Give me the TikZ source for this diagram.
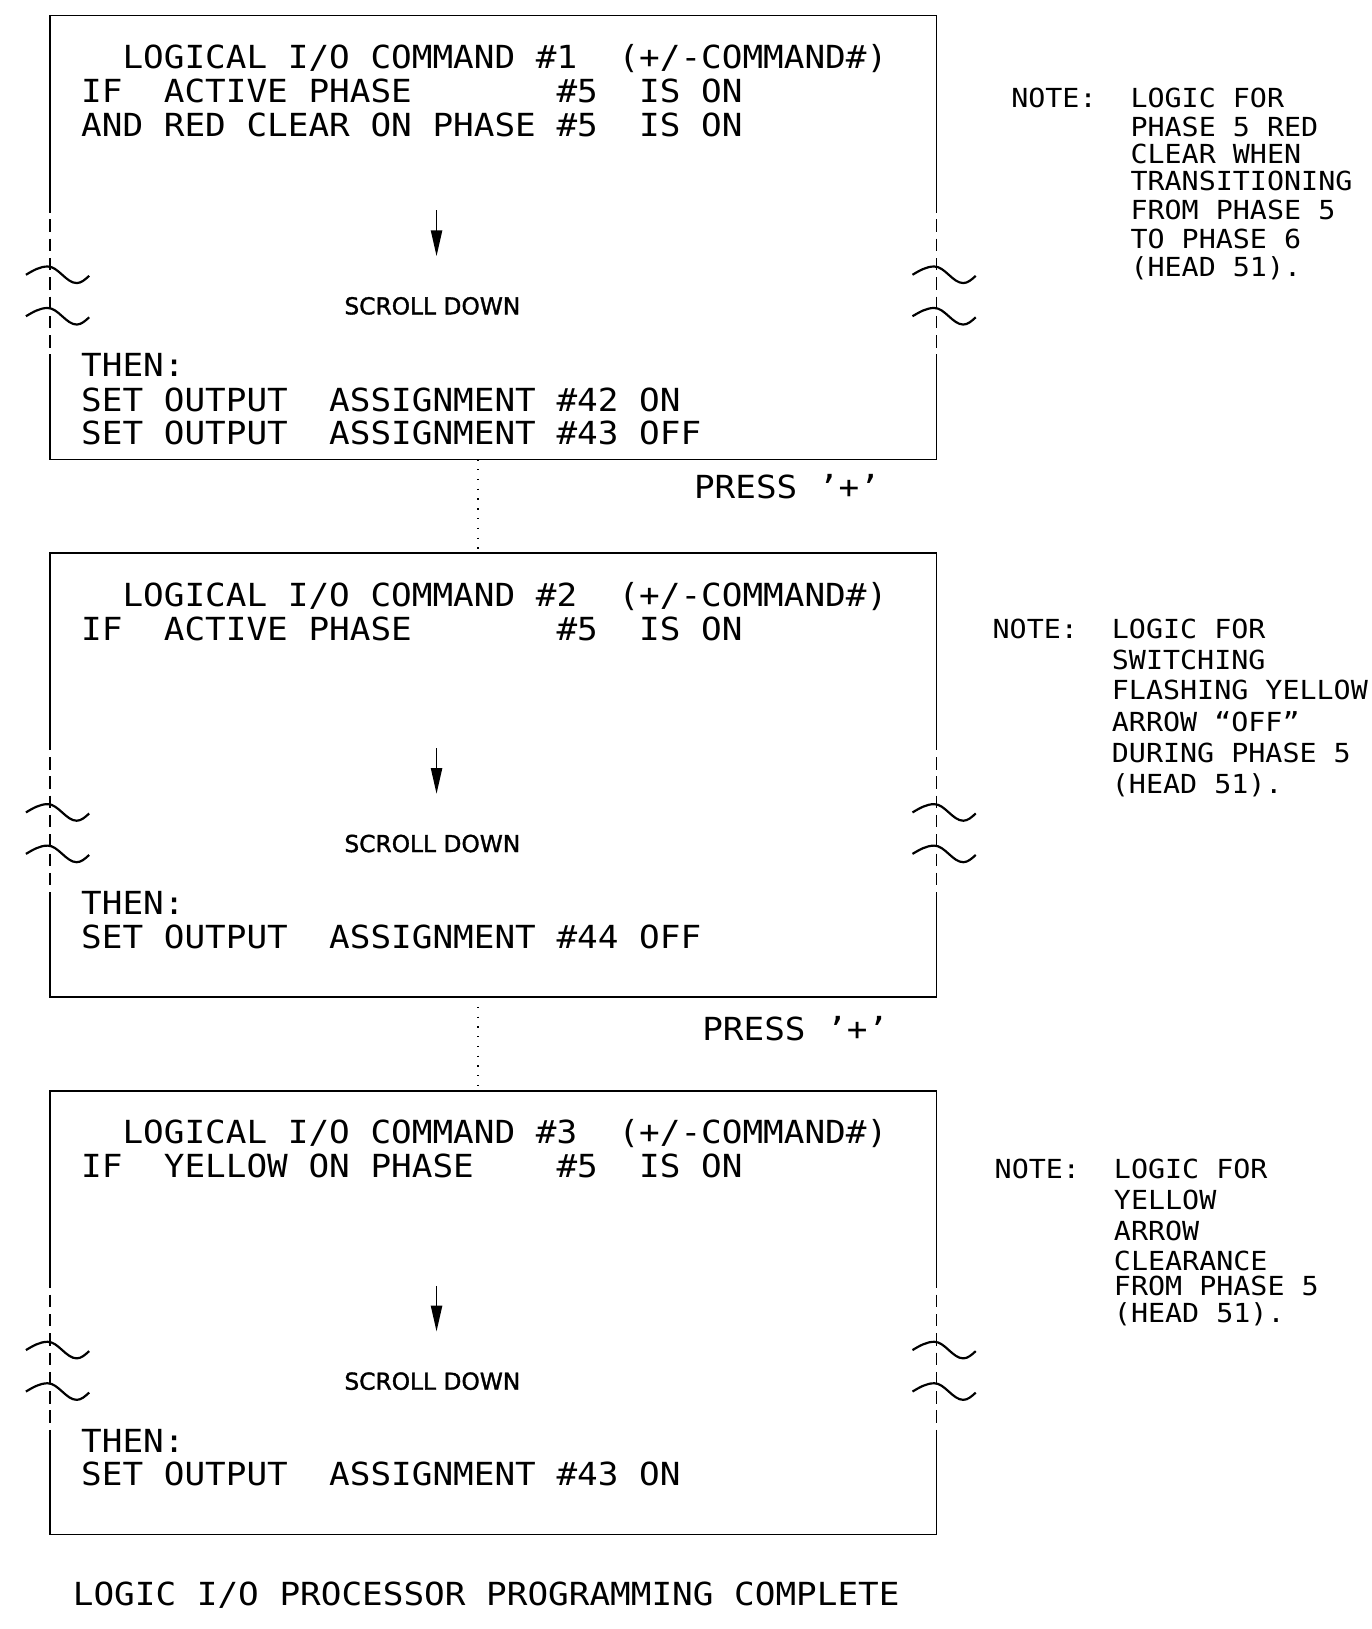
\documentclass[tikz,border=0pt]{standalone}
\usepackage{fontspec}
\newfontfamily\cadfont[FakeStretch=1.08]{DejaVu Sans Mono}
\newfontfamily\scrollfont[FakeBold=1.5]{DejaVu Sans}
\usetikzlibrary{arrows.meta}

\begin{document}
\begin{tikzpicture}[x=0.025cm,y=-0.025cm,
    cmdtext/.style={anchor=base west,inner sep=0,font=\cadfont\cmdfontsize},
    notetext/.style={anchor=base west,inner sep=0,font=\cadfont\notefontsize},
    scrolltext/.style={inner sep=0,font=\scrollfont\scrollfontsize},
    panelline/.style={line width=1.1pt},
    breakline/.style={line width=1.1pt,dash pattern=on 0.3cm off 0.165cm},
    tildemark/.style={line width=1.5pt},
    linkdots/.style={line width=0.9pt,dash pattern=on 0.9pt off 5.8pt}]
    \pgfmathsetmacro{\boxleft}{48}
    \pgfmathsetmacro{\boxright}{903}
    \pgfmathsetmacro{\boxtop}{15}
    \pgfmathsetmacro{\boxbottom}{443}
    \pgfmathsetmacro{\breaktop}{193}
    \pgfmathsetmacro{\breakbottom}{350}
    \providecommand{\cmdfontsize}{\fontsize{21.8}{26}\selectfont}
    \providecommand{\notefontsize}{\fontsize{18}{22}\selectfont}
    \providecommand{\scrollfontsize}{\fontsize{16}{19}\selectfont}
    \useasboundingbox (0,0) rectangle (1323,1571);
    % the three panels, broken at the sides
    \foreach \oy/\nm in {0/one,518.5/two,1037/three} {
        \draw[panelline] (\boxleft,\breaktop+\oy) -- (\boxleft,\boxtop+\oy) -- (\boxright,\boxtop+\oy) -- (\boxright,\breaktop+\oy);
        \draw[panelline] (\boxleft,\breakbottom+\oy) -- (\boxleft,\boxbottom+\oy) -- (\boxright,\boxbottom+\oy) -- (\boxright,\breakbottom+\oy);
        \draw[breakline] (\boxleft,\breaktop+\oy) -- (\boxleft,\breakbottom+\oy);
        \draw[breakline] (\boxright,\breaktop+\oy) -- (\boxright,\breakbottom+\oy);
        \foreach \ty in {265,305}
            \foreach \lx in {\boxleft,\boxright}
                \draw[tildemark] (\lx-23,\ty+\oy) sin (\lx-2,\ty-8+\oy) cos (\lx+12,\ty+\oy) sin (\lx+26,\ty+8+\oy) cos (\lx+38,\ty+1+\oy);
        \draw[line width=1.1pt,-{Triangle[length=0.62cm,width=0.27cm]}] (421,203+\oy) -- (421,247+\oy);
        \node[scrolltext] (scroll\nm) at (417,295+\oy) {SCROLL DOWN};
        \node[cmdtext] (then\nm) at (78,363.5+\oy) {THEN:};
        \coordinate (top\nm) at (461,\boxtop+\oy);
        \coordinate (bot\nm) at (461,\boxbottom+\oy);
    }
    % panel texts
    \node[cmdtext] (cmdone) at (78,66) {~~LOGICAL I/O COMMAND \#1~~(+/-COMMAND\#)};
    \node[cmdtext] (ifone) at (78,99) {IF~~ACTIVE PHASE~~~~~~~\#5~~IS ON};
    \node[cmdtext] (andone) at (78,132) {AND RED CLEAR ON PHASE \#5~~IS ON};
    \node[cmdtext] (setaone) at (78,396.5) {SET OUTPUT~~ASSIGNMENT \#42 ON};
    \node[cmdtext] (setbone) at (78,428.5) {SET OUTPUT~~ASSIGNMENT \#43 OFF};
    \node[cmdtext] (cmdtwo) at (78,584.5) {~~LOGICAL I/O COMMAND \#2~~(+/-COMMAND\#)};
    \node[cmdtext] (iftwo) at (78,617.5) {IF~~ACTIVE PHASE~~~~~~~\#5~~IS ON};
    \node[cmdtext] (setatwo) at (78,914.5) {SET OUTPUT~~ASSIGNMENT \#44 OFF};
    \node[cmdtext] (cmdthree) at (78,1103) {~~LOGICAL I/O COMMAND \#3~~(+/-COMMAND\#)};
    \node[cmdtext] (ifthree) at (78,1136) {IF~~YELLOW ON PHASE~~~~\#5~~IS ON};
    \node[cmdtext] (setathree) at (78,1433) {SET OUTPUT~~ASSIGNMENT \#43 ON};
    % links between panels
    \draw[linkdots] (botone) -- (toptwo);
    \draw[linkdots] (bottwo) -- (topthree);
    \node[cmdtext] (pressone) at (669,480.5) {PRESS ’+’};
    \node[cmdtext] (presstwo) at (677,1003.5) {PRESS ’+’};
    % notes
    \node[notetext] (noteone) at (975,103.5) {NOTE:};
    \foreach \ny/\nt [count=\i] in {103.5/LOGIC FOR,131.5/PHASE 5 RED,157.5/CLEAR WHEN,183.5/TRANSITIONING,211.5/FROM PHASE 5,239.5/TO PHASE 6,266.5/(HEAD 51).}
        \node[notetext] (noteone\i) at (1090,\ny) {\nt};
    \node[notetext] (notetwo) at (957,615.5) {NOTE:};
    \foreach \ny/\nt [count=\i] in {615.5/LOGIC FOR,645.5/SWITCHING,674.5/FLASHING YELLOW,705.5/ARROW “OFF”,735.5/DURING PHASE 5,765.5/(HEAD 51).}
        \node[notetext] (notetwo\i) at (1072,\ny) {\nt};
    \node[notetext] (notethree) at (959,1136.5) {NOTE:};
    \foreach \ny/\nt [count=\i] in {1136.5/LOGIC FOR,1166.5/YELLOW,1196.5/ARROW,1225.5/CLEARANCE,1249.5/FROM PHASE 5,1275.5/(HEAD 51).}
        \node[notetext] (notethree\i) at (1074,\ny) {\nt};
    \node[cmdtext] (complete) at (70,1548.5) {LOGIC I/O PROCESSOR PROGRAMMING COMPLETE};
\end{tikzpicture}
\end{document}
